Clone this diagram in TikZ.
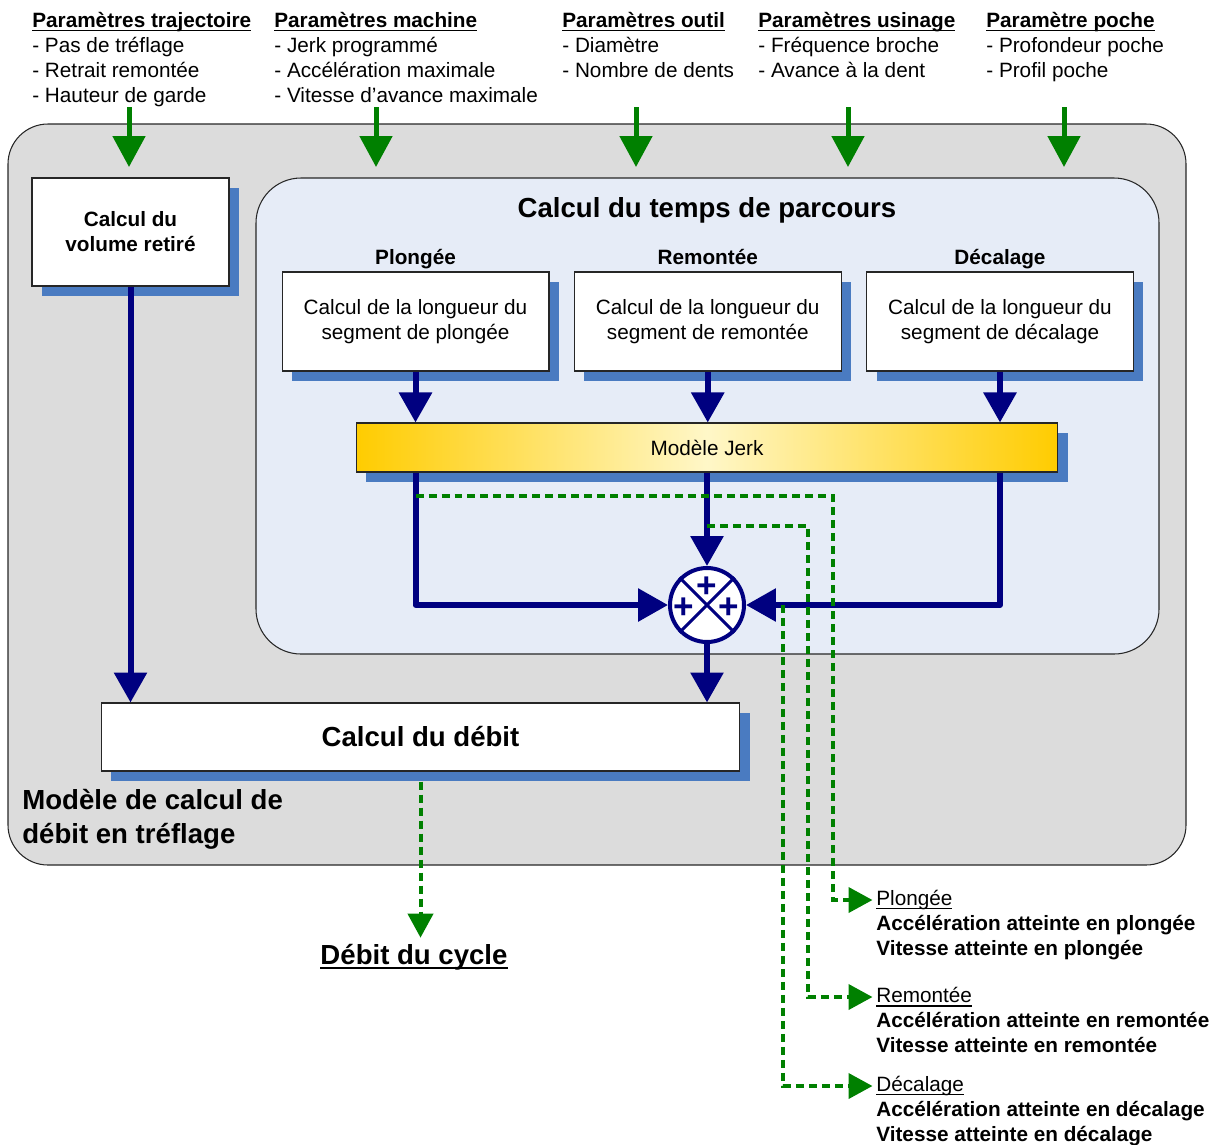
\documentclass[tikz,border=0pt]{standalone}
\usepackage{fontspec}
\setmainfont{Liberation Sans}
\usetikzlibrary{shadows}
\usetikzlibrary{positioning}
\usetikzlibrary{arrows.meta}
\definecolor{panelgray}{RGB}{220,220,220}
\definecolor{panelblue}{RGB}{230,236,247}
\definecolor{shadowblue}{RGB}{74,123,193}
\definecolor{flownavy}{RGB}{0,0,128}
\definecolor{paramgreen}{RGB}{0,128,0}
\definecolor{jerkgold}{RGB}{255,204,0}
\definecolor{jerklight}{RGB}{255,247,200}
\newcommand{\diagfont}{\fontsize{11.8}{14.2}\selectfont}
\newcommand{\diagbigfont}{\fontsize{15.7}{19.2}\selectfont}
\newcommand{\undl}[1]{\setbox0\hbox{#1}\rlap{\vrule height -0.11em depth 0.18em width \wd0}\box0}

\begin{document}
\begin{tikzpicture}[x=0.02cm, y=-0.02cm, font=\diagfont,
    box/.style={draw=black!85, fill=white, line width=0.6pt, align=center, inner sep=0,
      drop shadow={fill=shadowblue, opacity=1, shadow xshift=0.2cm, shadow yshift=-0.2cm}},
    seg/.style={minimum width=5.34cm, minimum height=1.98cm},
    segname/.style={font=\diagfont\bfseries, inner sep=0, text height=0.75em, text depth=0.22em},
    param/.style={anchor=north west, align=left, inner sep=0},
    plus/.style={font=\fontsize{20}{20}\selectfont\bfseries, text=flownavy, inner sep=0},
    flow/.style={draw=flownavy, line width=0.12cm, line join=round, -{Triangle[width=0.64cm,length=0.6cm]}},
    feed/.style={draw=paramgreen, line width=0.1cm, -{Triangle[width=0.64cm,length=0.62cm]}},
    result/.style={draw=paramgreen, line width=0.08cm, dash pattern=on 0.16cm off 0.1cm, -{Triangle[width=0.5cm,length=0.48cm]}},
    outtxt/.style={anchor=west, inner sep=0}]
  \useasboundingbox (0,0) rectangle (1223,1144);
  % panels
  \draw[fill=panelgray, draw=black!85, line width=0.6pt, rounded corners=0.8cm] (8,124) rectangle (1186,865);
  \draw[fill=panelblue, draw=black!85, line width=0.6pt, rounded corners=0.9cm] (256,178) rectangle (1159,654);
  % parameters
  \node[param] (traj) at (32,12) {\textbf{\undl{Paramètres trajectoire}}\\- Pas de tréflage\\- Retrait remontée\\- Hauteur de garde};
  \node[param] (mach) at (274,12) {\textbf{\undl{Paramètres machine}}\\- Jerk programmé\\- Accélération maximale\\- Vitesse d’avance maximale};
  \node[param] (outil) at (562,12) {\textbf{\undl{Paramètres outil}}\\- Diamètre\\- Nombre de dents};
  \node[param] (usin) at (758,12) {\textbf{\undl{Paramètres usinage}}\\- Fréquence broche\\- Avance à la dent};
  \node[param] (poche) at (986,12) {\textbf{\undl{Paramètre poche}}\\- Profondeur poche\\- Profil poche};
  \foreach \x [count=\i] in {129,376,636,848,1064} {
    \coordinate (feed\i) at (\x,107);
    \coordinate (feedend\i) at (\x,167);
    \draw[feed] (feed\i) -- (feedend\i);
  }
  % blocks
  \node[box, font=\diagfont\bfseries, minimum width=3.94cm, minimum height=2.16cm] (vol) at (130.5,232) {Calcul du\\volume retiré};
  \node[font=\diagbigfont\bfseries, inner sep=0] (tps) at (707,210) {Calcul du temps de parcours};
  \node[box, seg] (plo) at (415.5,321.5) {Calcul de la longueur du\\segment de plongée};
  \node[box, seg, right=0.485cm of plo] (rem) {Calcul de la longueur du\\segment de remontée};
  \node[box, seg, right=0.485cm of rem] (dec) {Calcul de la longueur du\\segment de décalage};
  \node[segname, above=0.06cm of plo] (ploname) {Plongée};
  \node[segname, above=0.06cm of rem] (remname) {Remontée};
  \node[segname, above=0.06cm of dec] (decname) {Décalage};
  \node[box, left color=jerkgold, right color=jerkgold, middle color=jerklight, minimum width=14.04cm, minimum height=0.98cm] (jerk) at (707,447.5) {Modèle Jerk};
  \node[circle, draw=flownavy, fill=white, line width=0.08cm, minimum size=1.48cm, inner sep=0] (sum) at (707,605) {};
  \draw[flownavy, line width=0.06cm] (sum.north west) -- (sum.south east) (sum.north east) -- (sum.south west);
  \node[plus] (p1) at ([yshift=0.36cm]sum.center) {+};
  \node[plus] (p2) at ([xshift=-0.46cm, yshift=-0.06cm]sum.center) {+};
  \node[plus] (p3) at ([xshift=0.44cm, yshift=-0.06cm]sum.center) {+};
  \node[box, font=\diagbigfont\bfseries, minimum width=12.78cm, minimum height=1.36cm] (debit) at (420.5,737) {Calcul du débit};
  \node[anchor=north west, align=left, inner sep=0, font=\diagbigfont\bfseries] (model) at (22,789) {Modèle de calcul de\\débit en tréflage};
  % flows
  \draw[flow] (vol) -- (vol |- debit.north);
  \draw[flow] (plo) -- (plo |- jerk.north);
  \draw[flow] (rem) -- (rem |- jerk.north);
  \draw[flow] (dec) -- (dec |- jerk.north);
  \draw[flow] (plo |- jerk.south) |- (sum);
  \draw[flow] (sum |- jerk.south) -- (sum);
  \draw[flow] (dec |- jerk.south) |- (sum);
  \draw[flow] (sum) -- (sum |- debit.north);
  % outputs
  \node[outtxt] (outplo) at (876,900) {\undl{Plongée}};
  \node[below right=0.1cm and 0cm of outplo.south west, align=left, inner sep=0, font=\diagfont\bfseries] (plodet) {Accélération atteinte en plongée\\Vitesse atteinte en plongée};
  \node[outtxt] (outrem) at (876,997) {\undl{Remontée}};
  \node[below right=0.1cm and 0cm of outrem.south west, align=left, inner sep=0, font=\diagfont\bfseries] (remdet) {Accélération atteinte en remontée\\Vitesse atteinte en remontée};
  \node[outtxt] (outdec) at (876,1086) {\undl{Décalage}};
  \node[below right=0.1cm and 0cm of outdec.south west, align=left, inner sep=0, font=\diagfont\bfseries] (decdet) {Accélération atteinte en décalage\\Vitesse atteinte en décalage};
  \node[font=\diagbigfont\bfseries, inner sep=0] (cycle) at (414,957) {\undl{Débit du cycle}};
  \draw[result, shorten >=2pt] (plo |- 0,496) -| (833,0 |- outplo.west) -- (outplo.west);
  \draw[result, shorten >=2pt] (sum |- 0,526) -| (808,0 |- outrem.west) -- (outrem.west);
  \draw[result, shorten >=2pt] (783,0 |- sum) |- (outdec.west);
  \draw[result, shorten <=0.2cm, shorten >=0.12cm] (debit) -- (debit |- cycle.north);
\end{tikzpicture}
\end{document}
